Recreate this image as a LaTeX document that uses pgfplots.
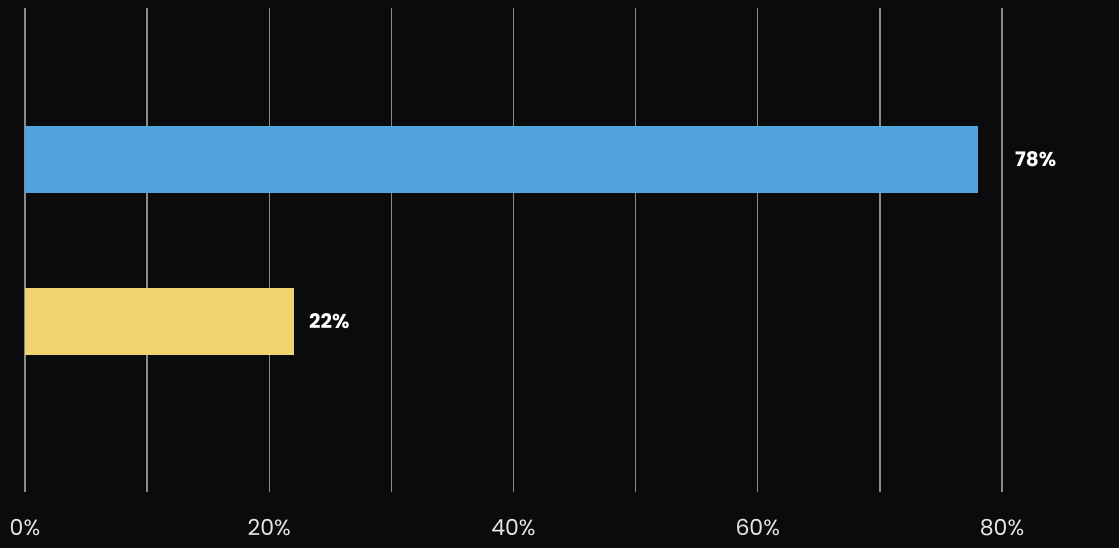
\documentclass[border=0pt]{standalone}
\usepackage{pgfplots}
\pgfplotsset{compat=1.18}
\usepackage{fontspec}
\setmainfont{Poppins}
\definecolor{bg}{HTML}{0B0B0D}
\definecolor{barblue}{HTML}{51A4DB}
\definecolor{baryellow}{HTML}{F0D46F}
\definecolor{gridgray}{HTML}{8A8A8A}
\definecolor{ticktext}{HTML}{E6E6E6}
\begin{document}
\begin{tikzpicture}
\useasboundingbox (0,0) rectangle (1119pt,548pt);
\fill[bg] (0,0) rectangle (1119pt,548pt);
\begin{axis}[
  at={(25pt,56pt)}, anchor=south west,
  scale only axis, width=977pt, height=484pt,
  xmin=0, xmax=80, ymin=0, ymax=484,
  xbar, bar width=67, bar shift=0pt,
  axis line style={draw=none},
  major tick length=0, minor tick length=0,
  xtick={0,20,...,80}, minor xtick={10,30,50,70},
  xticklabel={\pgfmathprintnumber{\tick}\%},
  xticklabel style={font=\fontsize{22}{26}\selectfont, text=ticktext, yshift=-24pt},
  ytick=\empty,
  grid=both,
  major grid style={gridgray, line width=1.4pt},
  minor grid style={gridgray, line width=1.4pt},
  nodes near coords={\pgfmathprintnumber{\pgfplotspointmeta}\%},
  point meta=x,
  /pgf/number format/assume math mode=true,
]
\addplot[fill=barblue, draw=none,
  nodes near coords style={font=\bfseries\fontsize{20}{24}\selectfont, text=white, anchor=west, xshift=34pt}]
  coordinates {(78,332.5)};
\addplot[fill=baryellow, draw=none,
  nodes near coords style={font=\bfseries\fontsize{20}{24}\selectfont, text=white, anchor=west, xshift=12pt}]
  coordinates {(22,170.5)};
\end{axis}
\end{tikzpicture}
\end{document}
